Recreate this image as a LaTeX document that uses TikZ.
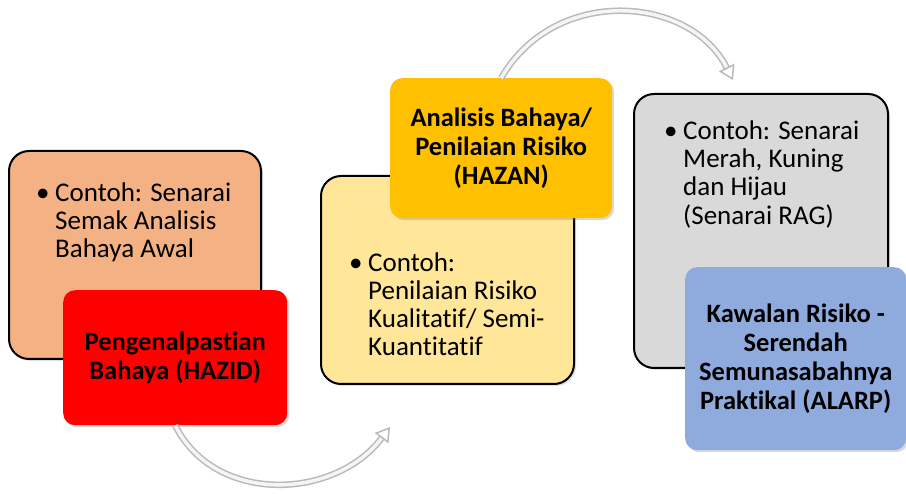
\documentclass[tikz,border=0pt]{standalone}
\usepackage{fontspec}
\setmainfont{Carlito}[Ligatures=NoCommon]
\usetikzlibrary{arrows.meta,shadows}

\definecolor{peach}{HTML}{F4B183}
\definecolor{hazidred}{HTML}{FF0000}
\definecolor{butter}{HTML}{FFE699}
\definecolor{gold}{HTML}{FFC000}
\definecolor{silver}{HTML}{D9D9D9}
\definecolor{cornflower}{HTML}{8FAADC}

\newcommand{\bulletlist}[1]{\begin{tabular}[t]{@{}p{19pt}@{}l@{}}\textbullet & #1\end{tabular}}

\begin{document}
\begin{tikzpicture}[x=1pt,y=-1pt,
  backbox/.style={draw=black,line width=2pt,rounded corners=20pt,anchor=north west,inner sep=0pt,
    drop shadow={shadow xshift=2pt,shadow yshift=-2pt,opacity=.25}},
  frontbox/.style={rounded corners=12pt,anchor=north west,align=center,inner sep=0pt,
    font=\fontsize{26.5}{29}\selectfont\bfseries,
    drop shadow={shadow xshift=2pt,shadow yshift=-2pt,opacity=.3}},
  listtext/.style={anchor=base west,inner sep=0pt,font=\fontsize{27}{28}\selectfont},
  tube/.style={draw=gray!55,double=gray!8,double distance=3.5pt,line width=1.5pt,
    -{Triangle[open,length=14pt,width=17pt,line width=1.5pt]}}]
\useasboundingbox (0,0) rectangle (906,494);

% back boxes
\node[backbox,fill=peach,minimum width=252,minimum height=208] (semak) at (8,150) {};
\node[backbox,fill=butter,minimum width=253,minimum height=208] (kualitatif) at (320,175) {};
\node[backbox,fill=silver,minimum width=254,minimum height=274] (rag) at (633,93) {};

\node[listtext] (semaktxt) at (36,202) {\bulletlist{Contoh: Senarai\\ & Semak Analisis\\ & Bahaya Awal}};
\node[listtext] (kualitatiftxt) at (349,272) {\bulletlist{Contoh:\\ & Penilaian Risiko\\ & Kualitatif/ Semi-\\ & Kuantitatif}};
\node[listtext] (ragtxt) at (664,140) {\bulletlist{Contoh: Senarai\\ & Merah, Kuning\\ & dan Hijau\\ & (Senarai RAG)}};

% front boxes
\node[frontbox,fill=hazidred,minimum width=224,minimum height=135] (hazid) at (63,290) {Pengenalpastian\\Bahaya (HAZID)};
\node[frontbox,fill=gold,minimum width=222,minimum height=140] (hazan) at (390,78) {Analisis Bahaya/\\Penilaian Risiko\\(HAZAN)};
\node[frontbox,fill=cornflower,minimum width=221,minimum height=183] (alarp) at (685,267) {Kawalan Risiko -\\Serendah\\Semunasabahnya\\Praktikal (ALARP)};

% curved arrows
\coordinate (hazanin) at (390,427);
\coordinate (ragin) at (733,80);
\draw[tube] (hazid.south) .. controls (215,505) and (335,500) .. (hazanin);
\draw[tube] (hazan.north) .. controls (555,-15) and (690,-5) .. (ragin);
\end{tikzpicture}
\end{document}
